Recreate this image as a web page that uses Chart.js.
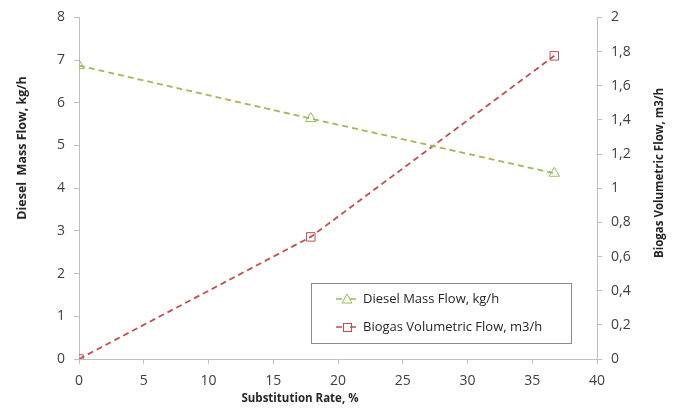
<!DOCTYPE html>
<html><head><meta charset="utf-8">
<script src="https://cdn.jsdelivr.net/npm/chart.js@4"></script>
<style>html,body{margin:0;padding:0;background:#fff}#wrap{width:681px;height:409px}</style>
</head><body><div id="wrap"><canvas id="c"></canvas></div>
<script>
const substitution = [0, 17.9, 36.7];
const dieselFlow = [6.87, 5.63, 4.35];
const biogasFlow = [0, 0.715, 1.775];
const xTicks = [0,5,10,15,20,25,30,35,40];
const seriesNames = ['Diesel Mass Flow, kg/h', 'Biogas Volumetric Flow, m3/h'];
const xTitle = 'Substitution Rate, %';
const yTitle = 'Diesel  Mass Flow, kg/h';
const y1Title = 'Biogas Volumetric Flow, m3/h';
const green = '#9bbb59', red = '#c0504d';
const FONT = '"Open Sans", "Noto Sans", sans-serif';

const decorPlugin = {
  id: 'decor',
  afterDraw(chart) {
    const ctx = chart.ctx;
    ctx.save();
    ctx.fillStyle = '#262626';
    ctx.textAlign = 'center'; ctx.textBaseline = 'middle';
    ctx.font = 'bold 11.5px ' + FONT;
    ctx.fillText(xTitle, 300, 399);
    ctx.save(); ctx.translate(22, 148); ctx.rotate(-Math.PI / 2);
    ctx.font = 'bold 12.5px ' + FONT; ctx.fillText(yTitle, 0, 0); ctx.restore();
    ctx.save(); ctx.translate(660, 173); ctx.rotate(-Math.PI / 2);
    ctx.font = 'bold 11.5px ' + FONT; ctx.fillText(y1Title, 0, 0); ctx.restore();
    const x0 = 311, y0 = 283, w = 260, h = 60;
    ctx.strokeStyle = '#8c8c8c'; ctx.lineWidth = 1;
    ctx.strokeRect(x0 + 0.5, y0 + 0.5, w, h);
    ctx.textAlign = 'left';
    chart.data.datasets.forEach((ds, i) => {
      const cy = y0 + 16 + i * 28;
      ctx.strokeStyle = ds.borderColor; ctx.lineWidth = 1.5;
      ctx.beginPath(); ctx.moveTo(336, cy); ctx.lineTo(342, cy); ctx.moveTo(350, cy); ctx.lineTo(356, cy); ctx.stroke();
      ctx.lineWidth = 1;
      if (i === 0) {
        ctx.beginPath(); ctx.moveTo(347, cy - 5); ctx.lineTo(352, cy + 4); ctx.lineTo(342, cy + 4); ctx.closePath();
        ctx.stroke();
      } else {
        ctx.strokeRect(343.5, cy - 3.5, 8, 8);
      }
      ctx.fillStyle = '#262626'; ctx.font = '13px ' + FONT; ctx.textBaseline = 'middle';
      ctx.fillText(ds.label, 363, cy);
    });
    ctx.restore();
  }
};

const axisColor = '#bfbfbf';
const tickFont = { family: FONT, size: 14 };
new Chart(document.getElementById('c'), {
  type: 'scatter',
  data: {
    datasets: [
      { label: seriesNames[0], data: substitution.map((x, i) => ({x, y: dieselFlow[i]})), yAxisID: 'y',
        showLine: true, borderColor: green, backgroundColor: '#fff', borderDash: [6,4], borderWidth: 1.8,
        pointStyle: 'triangle', pointRadius: 6, pointBorderWidth: 1, pointBorderColor: green, pointBackgroundColor: 'rgba(255,255,255,0)' },
      { label: seriesNames[1], data: substitution.map((x, i) => ({x, y: biogasFlow[i]})), yAxisID: 'y1',
        showLine: true, borderColor: red, backgroundColor: '#fff', borderDash: [6,4], borderWidth: 1.8,
        pointStyle: 'rect', pointRadius: 6, pointBorderWidth: 1, pointBorderColor: red, pointBackgroundColor: 'rgba(255,255,255,0)' }
    ]
  },
  options: {
    responsive: true, maintainAspectRatio: false, animation: false,
    layout: { padding: { top: 17, right: 0, bottom: 0, left: 0 } },
    plugins: { legend: { display: false }, tooltip: { enabled: false } },
    scales: {
      x: { type: 'linear', min: 0, max: 40,
        afterBuildTicks: s => { s.ticks = xTicks.map(v => ({value: v})); },
        afterFit: s => { s.height = 50; },
        grid: { drawOnChartArea: false, drawTicks: true, tickLength: 5, color: axisColor },
        border: { color: axisColor },
        ticks: { color: '#404040', font: tickFont, padding: 9 } },
      y: { position: 'left', min: 0, max: 8,
        afterFit: s => { s.width = 79; },
        ticks: { stepSize: 1, color: '#404040', font: tickFont, padding: 9 },
        grid: { drawOnChartArea: false, drawTicks: true, tickLength: 5, color: axisColor },
        border: { color: axisColor } },
      y1: { position: 'right', min: 0, max: 2,
        afterFit: s => { s.width = 84; },
        ticks: { stepSize: 0.2, color: '#404040', font: tickFont, padding: 9,
          callback: v => String(Math.round(v * 10) / 10).replace('.', ',') },
        grid: { drawOnChartArea: false, drawTicks: true, tickLength: 5, color: axisColor },
        border: { color: axisColor } }
    }
  },
  plugins: [decorPlugin]
});
</script></body></html>
